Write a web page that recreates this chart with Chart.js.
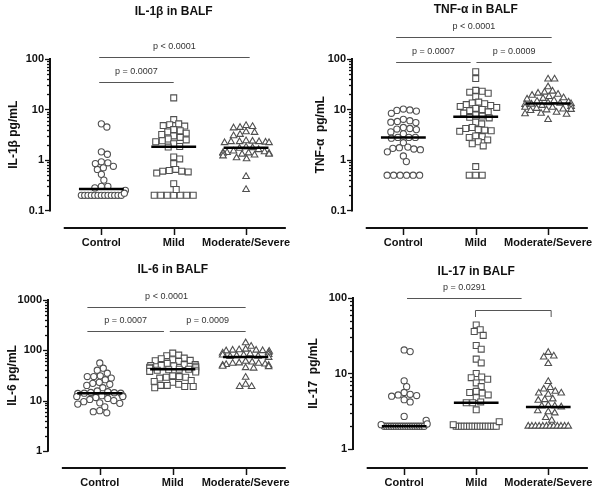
<!DOCTYPE html>
<html>
<head>
<meta charset="utf-8">
<script src="https://cdn.jsdelivr.net/npm/chart.js@4.4.0/dist/chart.umd.min.js"></script>
<style>
  body { margin: 0; background: #fff; }
  #wrap { position: relative; width: 604px; height: 493px; overflow: hidden; }
  canvas { position: absolute; }
</style>
</head>
<body>
<div id="wrap">
  <canvas id="il1b" width="302" height="252" style="left:0;top:0"></canvas>
  <canvas id="tnf" width="302" height="252" style="left:302px;top:0"></canvas>
  <canvas id="il6" width="302" height="247" style="left:0;top:246px"></canvas>
  <canvas id="il17" width="302" height="247" style="left:302px;top:246px"></canvas>
</div>
<script>
// Groups on the x axis
const groups = ['Control', 'Mild', 'Moderate/Severe'];

// IL-1β (pg/mL)
const il1bControl = [5.2, 4.5, 1.45, 1.3, 0.92, 0.88, 0.85, 0.75, 0.7, 0.65, 0.52, 0.4, 0.3, 0.3, 0.28, 0.25, 0.22,
  0.2, 0.2, 0.2, 0.2, 0.2, 0.2, 0.2, 0.2, 0.2, 0.2, 0.2, 0.2, 0.2];
const il1bMild = [17, 6.3, 5.2, 5.0, 4.8, 4.7, 4.0, 3.8, 3.6, 3.4, 3.2, 3.0, 2.8, 2.6, 2.5, 2.4, 2.3, 2.1, 1.85, 1.8,
  1.15, 1.05, 0.85, 0.65, 0.62, 0.6, 0.6, 0.58, 0.55, 0.34, 0.26, 0.2, 0.2, 0.2, 0.2, 0.2, 0.2, 0.2];
const il1bSevere = [4.8, 4.6, 4.4, 4.3, 3.6, 3.5, 3.2, 3.0, 2.4, 2.35, 2.3, 2.3, 2.3, 2.25, 2.2, 2.2, 1.8, 1.75, 1.7,
  1.6, 1.5, 1.45, 1.4, 1.4, 1.38, 1.35, 1.35, 1.3, 1.3, 1.25, 1.2, 1.1, 1.05, 0.47, 0.26];

// TNF-α (pg/mL)
const tnfControl = [10.2, 9.8, 9.6, 9.3, 8.4, 6.4, 6.0, 5.8, 5.6, 5.5, 4.4, 4.2, 4.1, 4.0, 3.6, 3.3, 2.8, 2.8, 2.8,
  2.7, 2.2, 1.8, 1.75, 1.7, 1.65, 1.6, 1.45, 1.2, 0.93, 0.5, 0.5, 0.5, 0.5, 0.5, 0.5];
const tnfMild = [56, 41, 24, 23, 22, 21, 18, 14, 13.5, 13, 12.5, 12, 11.5, 11, 10.5, 10, 9.5, 9, 8.5, 7.8, 7.4,
  7.0, 6.8, 5.6, 5.2, 4.4, 4.2, 4.0, 3.9, 3.8, 3.7, 3.0, 2.9, 2.8, 2.5, 2.3, 2.1, 1.9, 0.74, 0.5, 0.5, 0.5];
const tnfSevere = [40, 40, 28, 23, 22, 21, 20, 19, 18, 17, 16.5, 16, 15, 14.5, 14, 13.5, 13.2, 13, 12.7, 12.5, 12,
  11.5, 11, 11, 10.5, 10.2, 10, 9.8, 9.5, 8.8, 8.4, 8.2, 8.0, 6.3];

// IL-6 (pg/mL)
const il6Control = [56, 44, 40, 35, 31, 30, 30, 28, 26, 23, 22, 21, 20, 18, 15.5, 15, 14.5, 14.3, 14, 14, 13.8,
  12.5, 12.3, 12, 12, 11.5, 11, 10.5, 10, 9.5, 9, 8.8, 8.5, 7.5, 6.3, 6.0, 5.7];
const il6Mild = [88, 80, 78, 70, 68, 65, 63, 62, 60, 55, 52, 52, 50, 50, 49, 48, 46, 45, 44, 42, 42, 41, 40, 40,
  38, 37, 31, 30, 29, 29, 28, 25, 24, 23, 21, 20, 20, 19, 19, 18];
const il6Severe = [140, 120, 105, 102, 100, 100, 98, 97, 95, 90, 88, 85, 82, 80, 80, 78, 76, 75, 72, 60, 58, 56,
  55, 55, 53, 52, 50, 50, 48, 47, 45, 44, 29, 21, 19, 19];

// IL-17 (pg/mL)
const il17Control = [20.5, 19.5, 8.0, 6.7, 5.6, 5.3, 5.2, 5.1, 5.0, 4.5, 4.2, 2.7, 2.4, 2.15, 2.1,
  2, 2, 2, 2, 2, 2, 2, 2, 2, 2, 2, 2, 2, 2, 2, 2, 2, 2];
const il17Mild = [44, 38, 36, 32, 23.5, 21, 15.5, 13.8, 10, 9, 8.8, 8.4, 7.5, 6.7, 5.8, 5.6, 5.5, 5.2, 4.8, 4.2,
  4.1, 4.1, 3.3, 2.3, 2.1, 2, 2, 2, 2, 2, 2, 2, 2, 2, 2, 2, 2, 2, 2, 2, 2];
const il17Severe = [19, 17, 16.5, 13.5, 7.8, 6.5, 6.2, 5.8, 5.5, 5.5, 5.3, 4.6, 4.5, 4.4, 3.8, 3.7, 3.7, 3.6, 3.2,
  3.1, 3.0, 2.6, 2.4, 2, 2, 2, 2, 2, 2, 2, 2, 2, 2, 2, 2];

// y tick labels per panel
const il1bTicks = [0.1, 1, 10, 100];
const tnfTicks = [0.1, 1, 10, 100];
const il6Ticks = [1, 10, 100, 1000];
const il17Ticks = [1, 10, 100];

// significance bars (x in group units, y in pg/mL)
const il1bBars = [
  { from: 0.97, to: 2.0, y: 35, text: 'p = 0.0007' },
  { from: 0.97, to: 3.05, y: 110, text: 'p < 0.0001' }
];
const tnfBars = [
  { from: 0.9, to: 1.93, y: 87, text: 'p = 0.0007' },
  { from: 2.01, to: 3.05, y: 87, text: 'p = 0.0009' },
  { from: 0.9, to: 3.05, y: 273, text: 'p < 0.0001' }
];
const il6Bars = [
  { from: 0.83, to: 1.88, y: 241, text: 'p = 0.0007' },
  { from: 1.96, to: 3.0, y: 241, text: 'p = 0.0009' },
  { from: 0.83, to: 3.0, y: 723, text: 'p < 0.0001' }
];
const il17Bars = [
  { from: 1.04, to: 2.63, y: 100, text: 'p = 0.0291' },
  { from: 1.99, to: 3.04, y: 69, legs: 56, text: '' }
];

Chart.defaults.font.family = "'Liberation Sans', Arial, sans-serif";

const DIAM = 6.2;     // min distance between point centres (px)
const STEP_PX = 6.5;  // spacing inside a row of tied values
const HALF_W = 24;    // max half width of a swarm
const TIE_W = 20;     // half width of a row of tied values
const styles = ['circle', 'rect', 'triangle'];
const radii = [3.1, 4.2, 3.8];

function median(arr) {
  const s = [...arr].sort((a, b) => a - b);
  const m = Math.floor(s.length / 2);
  return s.length % 2 ? s[m] : (s[m - 1] + s[m]) / 2;
}

// draws axes, titles and p-value bars with the chart's scales
function decor(p) {
  return {
    id: 'decor',
    afterDraw(chart) {
      const ctx = chart.ctx, xs = chart.scales.x, ys = chart.scales.y, area = chart.chartArea;
      const lo = p.yTicks[0], hi = p.yTicks[p.yTicks.length - 1];
      const yTop = ys.getPixelForValue(hi), yBot = ys.getPixelForValue(lo);
      ctx.save();
      ctx.strokeStyle = '#111';
      ctx.fillStyle = '#111';

      // y axis + log ticks
      ctx.lineWidth = 2;
      ctx.beginPath();
      ctx.moveTo(area.left, yTop - 1);
      ctx.lineTo(area.left, yBot + 1);
      ctx.stroke();
      ctx.lineWidth = 1.3;
      const e0 = Math.round(Math.log10(lo)), e1 = Math.round(Math.log10(hi));
      for (let e = e0; e <= e1; e++) {
        for (let k = 1; k <= 9; k++) {
          const v = k * Math.pow(10, e);
          if (v > hi * 1.0001) break;
          const py = Math.round(ys.getPixelForValue(v)) + 0.5;
          ctx.beginPath();
          ctx.moveTo(area.left, py);
          ctx.lineTo(area.left - (k === 1 ? 5 : 3), py);
          ctx.stroke();
        }
      }

      // x axis line + category ticks
      ctx.lineWidth = 2;
      ctx.beginPath();
      ctx.moveTo(xs.getPixelForValue(0.48), area.bottom);
      ctx.lineTo(xs.getPixelForValue(3.55), area.bottom);
      ctx.stroke();
      ctx.lineWidth = 1.5;
      groups.forEach((g, i) => {
        const px = Math.round(xs.getPixelForValue(i + 1)) + 0.5;
        ctx.beginPath();
        ctx.moveTo(px, area.bottom);
        ctx.lineTo(px, area.bottom + 7);
        ctx.stroke();
      });

      // titles
      ctx.textAlign = 'center';
      ctx.textBaseline = 'middle';
      ctx.font = "bold 12px 'Liberation Sans', Arial, sans-serif";
      ctx.fillText(p.title, xs.getPixelForValue(2), p.titleY);
      ctx.save();
      ctx.translate(p.yTitleX, (yTop + yBot) / 2);
      ctx.rotate(-Math.PI / 2);
      ctx.fillText(p.yTitle, 0, 0);
      ctx.restore();

      // p-value bars
      ctx.strokeStyle = '#555';
      ctx.fillStyle = '#333';
      ctx.lineWidth = 1;
      ctx.font = "9px 'Liberation Sans', Arial, sans-serif";
      p.bars.forEach(b => {
        const x1 = xs.getPixelForValue(b.from), x2 = xs.getPixelForValue(b.to);
        const y = Math.round(ys.getPixelForValue(b.y)) + 0.5;
        ctx.beginPath();
        if (b.legs) {
          const yl = ys.getPixelForValue(b.legs);
          ctx.moveTo(x1, yl);
          ctx.lineTo(x1, y);
          ctx.lineTo(x2, y);
          ctx.lineTo(x2, yl);
        } else {
          ctx.moveTo(x1, y);
          ctx.lineTo(x2, y);
        }
        ctx.stroke();
        if (b.text) ctx.fillText(b.text, (x1 + x2) / 2, y - 11);
      });
      ctx.restore();
    }
  };
}

// beeswarm: ties packed into a row, the rest pushed sideways until free
function layoutSwarm(chart, sets) {
  const xs = chart.scales.x, ys = chart.scales.y;
  const unit = xs.getPixelForValue(2) - xs.getPixelForValue(1);
  sets.forEach((vals, g) => {
    const placed = [];
    const counts = {};
    vals.forEach(v => { counts[v] = (counts[v] || 0) + 1; });
    Object.keys(counts).filter(k => counts[k] >= 5).forEach(k => {
      const n = counts[k], v = Number(k);
      const gap = Math.min(STEP_PX, 2 * TIE_W / (n - 1));
      for (let i = 0; i < n; i++) placed.push({ dx: (i - (n - 1) / 2) * gap, py: ys.getPixelForValue(v), v });
    });
    const rest = vals.filter(v => counts[v] < 5)
      .map(v => ({ v, py: ys.getPixelForValue(v) }))
      .sort((a, b) => a.py - b.py);
    const free = (dx, py) => placed.every(q => (q.dx - dx) ** 2 + (q.py - py) ** 2 >= DIAM * DIAM);
    let side = 1;
    rest.forEach(pt => {
      let dx = null;
      for (let s = 0; s <= HALF_W * 2 && dx === null; s++) {
        const off = s / 2;
        if (free(off, pt.py)) dx = off;
        else if (free(-off, pt.py)) dx = -off;
      }
      if (dx === null) { dx = side * (TIE_W + 3); side = -side; }
      placed.push({ dx, py: pt.py, v: pt.v });
    });
    chart.data.datasets[g].data = placed.map(q => ({ x: g + 1 + q.dx / unit, y: q.v }));
  });
  chart.update('none');
}

function makePanel(id, sets, p) {
  const datasets = sets.map((vals, g) => ({
    data: vals.map(v => ({ x: g + 1, y: v })),
    pointStyle: styles[g],
    pointRadius: radii[g],
    pointBorderWidth: 1.1,
    pointBorderColor: '#505050',
    pointBackgroundColor: '#fff',
    order: 1
  }));
  sets.forEach((vals, g) => {
    const m = median(vals);
    datasets.push({
      data: [{ x: g + 1 - 0.31, y: m }, { x: g + 1 + 0.31, y: m }],
      showLine: true,
      borderColor: '#000',
      borderWidth: 2.5,
      pointRadius: 0,
      order: 0
    });
  });

  const chart = new Chart(document.getElementById(id), {
    type: 'scatter',
    data: { datasets },
    options: {
      responsive: false,
      animation: false,
      events: [],
      layout: { padding: { top: p.top, right: 4, left: 0, bottom: 0 } },
      plugins: { legend: { display: false }, tooltip: { enabled: false } },
      scales: {
        x: {
          type: 'linear',
          min: 0.29,
          max: 3.7,
          grid: { display: false, drawTicks: false },
          border: { display: false },
          afterBuildTicks: s => { s.ticks = groups.map((g, i) => ({ value: i + 1 })); },
          afterFit: s => { s.height = p.xh; },
          ticks: {
            autoSkip: false,
            maxRotation: 0,
            padding: 8,
            color: '#111',
            font: { size: 11, weight: 'bold' },
            callback: v => groups[v - 1]
          }
        },
        y: {
          type: 'logarithmic',
          min: p.yMin,
          max: p.yMax,
          grid: { display: false, drawTicks: false },
          border: { display: false },
          afterBuildTicks: s => { s.ticks = p.yTicks.map(v => ({ value: v })); },
          afterFit: s => { s.width = p.yw; },
          ticks: {
            autoSkip: false,
            padding: 6,
            color: '#111',
            font: { size: 11, weight: 'bold' },
            callback: v => String(v)
          }
        }
      }
    },
    plugins: [decor(p)]
  });
  layoutSwarm(chart, sets);
  return chart;
}

makePanel('il1b', [il1bControl, il1bMild, il1bSevere], {
  title: 'IL-1β in BALF', yTitle: 'IL-1β pg/mL', yTicks: il1bTicks, bars: il1bBars,
  yMin: 0.045, yMax: 100, top: 59, yw: 50, xh: 24, titleY: 12, yTitleX: 14
});
makePanel('tnf', [tnfControl, tnfMild, tnfSevere], {
  title: 'TNF-α in BALF', yTitle: 'TNF-α  pg/mL', yTicks: tnfTicks, bars: tnfBars,
  yMin: 0.045, yMax: 100, top: 59, yw: 50, xh: 24, titleY: 10, yTitleX: 19
});
makePanel('il6', [il6Control, il6Mild, il6Severe], {
  title: 'IL-6 in BALF', yTitle: 'IL-6 pg/mL', yTicks: il6Ticks, bars: il6Bars,
  yMin: 0.455, yMax: 1000, top: 54, yw: 48, xh: 25, titleY: 24, yTitleX: 13
});
makePanel('il17', [il17Control, il17Mild, il17Severe], {
  title: 'IL-17 in BALF', yTitle: 'IL-17  pg/mL', yTicks: il17Ticks, bars: il17Bars,
  yMin: 0.56, yMax: 100, top: 52, yw: 51, xh: 25, titleY: 26, yTitleX: 12
});
</script>
</body>
</html>
